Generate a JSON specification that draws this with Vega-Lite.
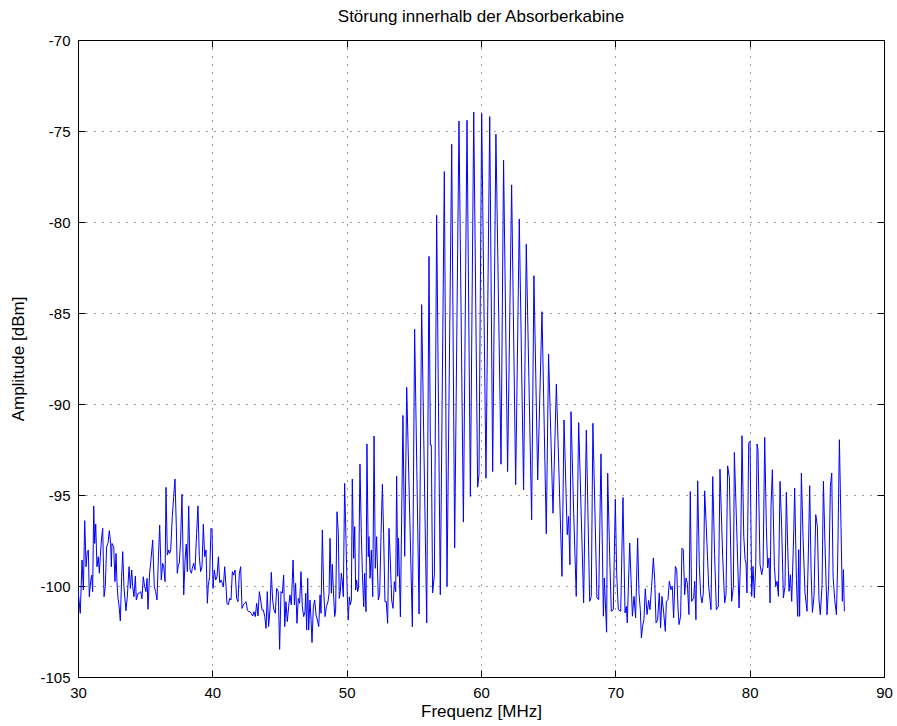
{
  "$schema": "https://vega.github.io/schema/vega-lite/v6.json",
  "width": 806,
  "height": 637,
  "autosize": "none",
  "padding": {"left": 78, "top": 40, "right": 13, "bottom": 49},
  "background": "white",
  "title": {
    "text": "Störung innerhalb der Absorberkabine",
    "anchor": "middle",
    "fontSize": 17,
    "fontWeight": "normal",
    "font": "Liberation Sans",
    "color": "black",
    "offset": 7
  },
  "config": {
    "font": "Liberation Sans",
    "view": {"stroke": "black", "strokeWidth": 1},
    "axis": {
      "domain": false,
      "tickColor": "black",
      "tickSize": -7,
      "tickWidth": 1,
      "labelColor": "black",
      "labelFontSize": 15,
      "labelFont": "Liberation Sans",
      "labelFlush": false,
      "labelExpr": "'' + datum.value",
      "titleFont": "Liberation Sans",
      "titleFontSize": 17,
      "titleFontWeight": "normal",
      "titleColor": "black",
      "gridColor": "black",
      "gridOpacity": 0.75,
      "gridDash": [1, 7],
      "gridWidth": 1
    }
  },
  "datasets": {
    "spectrum": [
      {"f": 30.00, "a": -100.22}, {"f": 30.17, "a": -101.50}, {"f": 30.30, "a": -98.57}, {"f": 30.40, "a": -100.22},
      {"f": 30.50, "a": -96.41}, {"f": 30.60, "a": -98.94}, {"f": 30.69, "a": -98.11}, {"f": 30.77, "a": -98.02},
      {"f": 30.84, "a": -100.59}, {"f": 30.94, "a": -99.76}, {"f": 31.02, "a": -99.40}, {"f": 31.09, "a": -100.31},
      {"f": 31.17, "a": -95.60}, {"f": 31.24, "a": -97.66}, {"f": 31.32, "a": -96.59}, {"f": 31.41, "a": -98.94},
      {"f": 31.51, "a": -98.39}, {"f": 31.59, "a": -99.30}, {"f": 31.66, "a": -98.39}, {"f": 31.74, "a": -97.47},
      {"f": 31.84, "a": -96.83}, {"f": 31.94, "a": -100.59}, {"f": 32.03, "a": -100.04}, {"f": 32.13, "a": -97.84},
      {"f": 32.23, "a": -97.66}, {"f": 32.33, "a": -96.96}, {"f": 32.43, "a": -97.66}, {"f": 32.48, "a": -98.94},
      {"f": 32.53, "a": -97.66}, {"f": 32.66, "a": -97.84}, {"f": 32.75, "a": -99.76}, {"f": 32.83, "a": -98.21},
      {"f": 32.90, "a": -99.76}, {"f": 32.98, "a": -100.68}, {"f": 33.05, "a": -101.04}, {"f": 33.15, "a": -101.92},
      {"f": 33.25, "a": -99.49}, {"f": 33.33, "a": -98.11}, {"f": 33.42, "a": -100.04}, {"f": 33.50, "a": -100.77},
      {"f": 33.57, "a": -101.36}, {"f": 33.67, "a": -100.59}, {"f": 33.80, "a": -98.94}, {"f": 33.90, "a": -100.13},
      {"f": 34.00, "a": -99.12}, {"f": 34.07, "a": -100.04}, {"f": 34.17, "a": -100.59}, {"f": 34.27, "a": -99.45},
      {"f": 34.34, "a": -100.77}, {"f": 34.47, "a": -100.40}, {"f": 34.57, "a": -100.40}, {"f": 34.67, "a": -100.31},
      {"f": 34.76, "a": -100.70}, {"f": 34.86, "a": -99.49}, {"f": 34.96, "a": -100.04}, {"f": 35.06, "a": -100.31},
      {"f": 35.14, "a": -99.58}, {"f": 35.21, "a": -101.28}, {"f": 35.33, "a": -99.30}, {"f": 35.43, "a": -98.57},
      {"f": 35.56, "a": -97.47}, {"f": 35.68, "a": -100.04}, {"f": 35.78, "a": -100.31}, {"f": 35.88, "a": -100.77},
      {"f": 35.98, "a": -98.57}, {"f": 36.08, "a": -96.65}, {"f": 36.20, "a": -99.67}, {"f": 36.30, "a": -98.75},
      {"f": 36.38, "a": -98.94}, {"f": 36.48, "a": -99.76}, {"f": 36.55, "a": -94.58}, {"f": 36.65, "a": -98.30},
      {"f": 36.75, "a": -98.02}, {"f": 36.82, "a": -98.21}, {"f": 36.90, "a": -98.02}, {"f": 37.02, "a": -96.19},
      {"f": 37.12, "a": -95.09}, {"f": 37.22, "a": -94.12}, {"f": 37.32, "a": -96.74}, {"f": 37.39, "a": -99.30},
      {"f": 37.47, "a": -98.85}, {"f": 37.54, "a": -98.75}, {"f": 37.64, "a": -97.47}, {"f": 37.74, "a": -94.96},
      {"f": 37.87, "a": -100.49}, {"f": 37.97, "a": -98.57}, {"f": 38.06, "a": -97.69}, {"f": 38.14, "a": -99.21},
      {"f": 38.24, "a": -95.60}, {"f": 38.34, "a": -99.12}, {"f": 38.44, "a": -99.30}, {"f": 38.51, "a": -99.03},
      {"f": 38.61, "a": -98.75}, {"f": 38.71, "a": -99.12}, {"f": 38.83, "a": -97.11}, {"f": 38.93, "a": -95.60},
      {"f": 39.03, "a": -98.39}, {"f": 39.13, "a": -99.21}, {"f": 39.23, "a": -98.94}, {"f": 39.33, "a": -96.61},
      {"f": 39.43, "a": -98.39}, {"f": 39.53, "a": -98.02}, {"f": 39.63, "a": -100.95}, {"f": 39.70, "a": -99.95},
      {"f": 39.80, "a": -99.49}, {"f": 39.90, "a": -96.83}, {"f": 39.98, "a": -96.92}, {"f": 40.05, "a": -100.13},
      {"f": 40.15, "a": -99.12}, {"f": 40.25, "a": -99.67}, {"f": 40.35, "a": -99.49}, {"f": 40.45, "a": -98.39},
      {"f": 40.55, "a": -99.82}, {"f": 40.65, "a": -99.67}, {"f": 40.74, "a": -99.85}, {"f": 40.82, "a": -100.04},
      {"f": 40.92, "a": -98.94}, {"f": 41.02, "a": -100.04}, {"f": 41.09, "a": -100.95}, {"f": 41.19, "a": -101.04},
      {"f": 41.29, "a": -100.68}, {"f": 41.39, "a": -100.77}, {"f": 41.49, "a": -99.21}, {"f": 41.59, "a": -99.40},
      {"f": 41.69, "a": -99.12}, {"f": 41.81, "a": -100.68}, {"f": 41.91, "a": -100.86}, {"f": 42.01, "a": -99.30},
      {"f": 42.11, "a": -98.94}, {"f": 42.21, "a": -101.23}, {"f": 42.31, "a": -101.04}, {"f": 42.41, "a": -100.95},
      {"f": 42.51, "a": -100.86}, {"f": 42.61, "a": -101.32}, {"f": 42.70, "a": -101.41}, {"f": 42.80, "a": -101.41},
      {"f": 42.90, "a": -101.50}, {"f": 43.00, "a": -101.65}, {"f": 43.10, "a": -101.41}, {"f": 43.20, "a": -101.68},
      {"f": 43.30, "a": -100.95}, {"f": 43.40, "a": -101.65}, {"f": 43.50, "a": -100.31}, {"f": 43.60, "a": -100.77},
      {"f": 43.70, "a": -101.32}, {"f": 43.80, "a": -101.32}, {"f": 43.90, "a": -101.68}, {"f": 44.00, "a": -102.33},
      {"f": 44.09, "a": -100.31}, {"f": 44.19, "a": -102.23}, {"f": 44.29, "a": -101.32}, {"f": 44.39, "a": -99.25},
      {"f": 44.49, "a": -100.77}, {"f": 44.59, "a": -101.32}, {"f": 44.69, "a": -101.50}, {"f": 44.79, "a": -100.13},
      {"f": 44.91, "a": -100.31}, {"f": 45.01, "a": -103.48}, {"f": 45.11, "a": -100.31}, {"f": 45.21, "a": -100.40},
      {"f": 45.31, "a": -99.40}, {"f": 45.39, "a": -102.23}, {"f": 45.48, "a": -100.86}, {"f": 45.58, "a": -101.96},
      {"f": 45.68, "a": -101.14}, {"f": 45.78, "a": -100.49}, {"f": 45.88, "a": -101.04}, {"f": 46.01, "a": -98.57},
      {"f": 46.11, "a": -101.04}, {"f": 46.20, "a": -99.85}, {"f": 46.30, "a": -102.05}, {"f": 46.40, "a": -100.68},
      {"f": 46.50, "a": -100.95}, {"f": 46.60, "a": -99.21}, {"f": 46.70, "a": -101.14}, {"f": 46.80, "a": -101.68},
      {"f": 46.90, "a": -101.41}, {"f": 46.95, "a": -100.40}, {"f": 47.02, "a": -102.42}, {"f": 47.10, "a": -99.58},
      {"f": 47.17, "a": -102.42}, {"f": 47.27, "a": -100.77}, {"f": 47.35, "a": -101.87}, {"f": 47.42, "a": -103.11},
      {"f": 47.52, "a": -101.14}, {"f": 47.62, "a": -100.77}, {"f": 47.72, "a": -101.59}, {"f": 47.82, "a": -101.87},
      {"f": 47.92, "a": -102.23}, {"f": 48.02, "a": -100.49}, {"f": 48.09, "a": -101.50}, {"f": 48.19, "a": -96.92},
      {"f": 48.29, "a": -100.22}, {"f": 48.39, "a": -101.68}, {"f": 48.49, "a": -101.14}, {"f": 48.61, "a": -100.86},
      {"f": 48.69, "a": -100.40}, {"f": 48.76, "a": -97.38}, {"f": 48.86, "a": -100.40}, {"f": 48.93, "a": -98.81},
      {"f": 49.01, "a": -100.22}, {"f": 49.11, "a": -101.68}, {"f": 49.18, "a": -101.32}, {"f": 49.28, "a": -95.92},
      {"f": 49.38, "a": -97.11}, {"f": 49.45, "a": -100.68}, {"f": 49.53, "a": -100.31}, {"f": 49.60, "a": -99.30},
      {"f": 49.68, "a": -99.76}, {"f": 49.75, "a": -100.59}, {"f": 49.85, "a": -94.36}, {"f": 49.95, "a": -97.47},
      {"f": 50.05, "a": -100.59}, {"f": 50.12, "a": -101.87}, {"f": 50.20, "a": -100.59}, {"f": 50.27, "a": -101.04},
      {"f": 50.35, "a": -100.77}, {"f": 50.42, "a": -94.12}, {"f": 50.52, "a": -98.48}, {"f": 50.60, "a": -96.74},
      {"f": 50.67, "a": -100.22}, {"f": 50.74, "a": -99.67}, {"f": 50.82, "a": -100.31}, {"f": 50.89, "a": -100.04},
      {"f": 50.99, "a": -93.30}, {"f": 51.09, "a": -97.11}, {"f": 51.17, "a": -99.30}, {"f": 51.27, "a": -101.14},
      {"f": 51.34, "a": -99.30}, {"f": 51.44, "a": -101.41}, {"f": 51.51, "a": -92.20}, {"f": 51.61, "a": -98.39},
      {"f": 51.66, "a": -97.29}, {"f": 51.74, "a": -99.58}, {"f": 51.84, "a": -98.02}, {"f": 51.94, "a": -100.59},
      {"f": 52.04, "a": -91.76}, {"f": 52.13, "a": -99.03}, {"f": 52.23, "a": -97.29}, {"f": 52.36, "a": -100.77},
      {"f": 52.46, "a": -100.40}, {"f": 52.56, "a": -97.11}, {"f": 52.66, "a": -94.41}, {"f": 52.75, "a": -97.11},
      {"f": 52.85, "a": -100.86}, {"f": 52.95, "a": -100.86}, {"f": 53.05, "a": -102.05}, {"f": 53.15, "a": -96.83},
      {"f": 53.25, "a": -98.57}, {"f": 53.35, "a": -100.77}, {"f": 53.45, "a": -101.23}, {"f": 53.55, "a": -99.76},
      {"f": 53.65, "a": -100.31}, {"f": 53.72, "a": -93.96}, {"f": 53.80, "a": -99.47}, {"f": 53.86, "a": -97.37},
      {"f": 54.00, "a": -101.70}, {"f": 54.19, "a": -90.63}, {"f": 54.32, "a": -98.37}, {"f": 54.47, "a": -89.08},
      {"f": 54.89, "a": -102.25}, {"f": 55.06, "a": -85.88}, {"f": 55.39, "a": -101.54}, {"f": 55.58, "a": -84.54},
      {"f": 55.96, "a": -102.03}, {"f": 56.13, "a": -81.89}, {"f": 56.23, "a": -92.25}, {"f": 56.30, "a": -92.25},
      {"f": 56.40, "a": -100.38}, {"f": 56.53, "a": -99.38}, {"f": 56.70, "a": -79.63}, {"f": 56.97, "a": -100.48},
      {"f": 57.27, "a": -77.23}, {"f": 57.47, "a": -100.02}, {"f": 57.82, "a": -75.73}, {"f": 58.04, "a": -97.91},
      {"f": 58.36, "a": -74.45}, {"f": 58.69, "a": -96.49}, {"f": 58.96, "a": -74.41}, {"f": 59.21, "a": -95.08},
      {"f": 59.46, "a": -73.96}, {"f": 59.75, "a": -94.57}, {"f": 59.85, "a": -93.89}, {"f": 60.05, "a": -74.03},
      {"f": 60.37, "a": -94.08}, {"f": 60.65, "a": -74.21}, {"f": 60.87, "a": -93.71}, {"f": 61.11, "a": -75.18},
      {"f": 61.49, "a": -93.31}, {"f": 61.68, "a": -76.61}, {"f": 61.98, "a": -93.71}, {"f": 62.28, "a": -77.96},
      {"f": 62.58, "a": -94.44}, {"f": 62.85, "a": -79.83}, {"f": 63.17, "a": -94.72}, {"f": 63.37, "a": -81.22},
      {"f": 63.77, "a": -96.36}, {"f": 63.94, "a": -82.95}, {"f": 64.22, "a": -94.17}, {"f": 64.54, "a": -84.93},
      {"f": 64.86, "a": -97.13}, {"f": 65.03, "a": -87.25}, {"f": 65.36, "a": -96.00}, {"f": 65.61, "a": -88.90},
      {"f": 66.03, "a": -99.47}, {"f": 66.18, "a": -90.88}, {"f": 66.42, "a": -97.18}, {"f": 66.52, "a": -96.18},
      {"f": 66.62, "a": -98.83}, {"f": 66.70, "a": -90.42}, {"f": 66.90, "a": -96.00}, {"f": 67.09, "a": -100.57},
      {"f": 67.27, "a": -91.02}, {"f": 67.39, "a": -94.17}, {"f": 67.64, "a": -100.93}, {"f": 67.84, "a": -91.43},
      {"f": 68.09, "a": -100.84}, {"f": 68.21, "a": -100.57}, {"f": 68.33, "a": -91.06}, {"f": 68.63, "a": -100.66},
      {"f": 68.76, "a": -100.75}, {"f": 68.93, "a": -92.74}, {"f": 69.11, "a": -101.66}, {"f": 69.18, "a": -99.56},
      {"f": 69.35, "a": -102.54}, {"f": 69.43, "a": -93.80}, {"f": 69.58, "a": -98.37}, {"f": 69.70, "a": -101.39},
      {"f": 69.85, "a": -101.30}, {"f": 70.00, "a": -95.23}, {"f": 70.10, "a": -99.29}, {"f": 70.22, "a": -101.30},
      {"f": 70.40, "a": -101.39}, {"f": 70.57, "a": -95.14}, {"f": 70.72, "a": -101.48}, {"f": 70.82, "a": -101.12},
      {"f": 70.89, "a": -102.03}, {"f": 71.07, "a": -97.64}, {"f": 71.17, "a": -99.65}, {"f": 71.27, "a": -101.66},
      {"f": 71.39, "a": -100.57}, {"f": 71.51, "a": -101.75}, {"f": 71.66, "a": -97.37}, {"f": 71.76, "a": -100.38},
      {"f": 71.86, "a": -101.30}, {"f": 71.94, "a": -102.85}, {"f": 72.03, "a": -102.21}, {"f": 72.13, "a": -101.85},
      {"f": 72.23, "a": -100.15}, {"f": 72.36, "a": -101.57}, {"f": 72.48, "a": -100.79}, {"f": 72.58, "a": -101.30},
      {"f": 72.70, "a": -100.02}, {"f": 72.83, "a": -98.46}, {"f": 72.93, "a": -99.65}, {"f": 73.03, "a": -102.03},
      {"f": 73.15, "a": -101.85}, {"f": 73.27, "a": -100.38}, {"f": 73.37, "a": -102.30}, {"f": 73.47, "a": -100.57},
      {"f": 73.60, "a": -101.48}, {"f": 73.72, "a": -102.49}, {"f": 73.80, "a": -100.84}, {"f": 73.92, "a": -100.75},
      {"f": 74.02, "a": -99.74}, {"f": 74.14, "a": -100.20}, {"f": 74.24, "a": -100.02}, {"f": 74.34, "a": -101.75},
      {"f": 74.47, "a": -98.92}, {"f": 74.57, "a": -99.10}, {"f": 74.66, "a": -101.12}, {"f": 74.74, "a": -102.12},
      {"f": 74.86, "a": -101.66}, {"f": 74.96, "a": -97.92}, {"f": 75.06, "a": -98.01}, {"f": 75.16, "a": -100.48},
      {"f": 75.26, "a": -99.56}, {"f": 75.36, "a": -99.84}, {"f": 75.48, "a": -101.57}, {"f": 75.58, "a": -94.81},
      {"f": 75.68, "a": -100.84}, {"f": 75.83, "a": -100.66}, {"f": 75.91, "a": -99.74}, {"f": 76.00, "a": -101.85},
      {"f": 76.13, "a": -94.22}, {"f": 76.25, "a": -98.83}, {"f": 76.35, "a": -100.48}, {"f": 76.45, "a": -100.93},
      {"f": 76.55, "a": -100.38}, {"f": 76.65, "a": -94.77}, {"f": 76.77, "a": -96.73}, {"f": 76.95, "a": -100.02},
      {"f": 77.12, "a": -101.30}, {"f": 77.25, "a": -93.99}, {"f": 77.39, "a": -98.28}, {"f": 77.52, "a": -101.30},
      {"f": 77.67, "a": -101.12}, {"f": 77.79, "a": -93.58}, {"f": 77.99, "a": -98.37}, {"f": 78.14, "a": -100.93},
      {"f": 78.24, "a": -100.48}, {"f": 78.36, "a": -93.40}, {"f": 78.49, "a": -94.07}, {"f": 78.66, "a": -100.84},
      {"f": 78.79, "a": -100.02}, {"f": 78.86, "a": -92.66}, {"f": 79.03, "a": -96.72}, {"f": 79.21, "a": -101.21},
      {"f": 79.33, "a": -98.19}, {"f": 79.43, "a": -91.74}, {"f": 79.56, "a": -97.27}, {"f": 79.66, "a": -98.55},
      {"f": 79.73, "a": -98.74}, {"f": 79.80, "a": -100.38}, {"f": 79.93, "a": -92.14}, {"f": 80.03, "a": -92.05},
      {"f": 80.15, "a": -100.57}, {"f": 80.25, "a": -98.92}, {"f": 80.35, "a": -100.66}, {"f": 80.45, "a": -98.92},
      {"f": 80.55, "a": -92.20}, {"f": 80.62, "a": -92.51}, {"f": 80.77, "a": -98.83}, {"f": 80.90, "a": -99.38},
      {"f": 81.00, "a": -98.92}, {"f": 81.12, "a": -91.83}, {"f": 81.24, "a": -96.72}, {"f": 81.34, "a": -99.01},
      {"f": 81.44, "a": -98.46}, {"f": 81.52, "a": -100.93}, {"f": 81.59, "a": -95.62}, {"f": 81.69, "a": -93.61},
      {"f": 81.84, "a": -98.92}, {"f": 81.94, "a": -100.02}, {"f": 82.04, "a": -99.74}, {"f": 82.14, "a": -100.57},
      {"f": 82.26, "a": -94.25}, {"f": 82.38, "a": -96.72}, {"f": 82.51, "a": -100.66}, {"f": 82.63, "a": -100.02},
      {"f": 82.73, "a": -94.85}, {"f": 82.83, "a": -97.82}, {"f": 82.93, "a": -100.29}, {"f": 83.03, "a": -99.38},
      {"f": 83.13, "a": -100.84}, {"f": 83.28, "a": -97.09}, {"f": 83.35, "a": -94.62}, {"f": 83.48, "a": -99.65},
      {"f": 83.58, "a": -101.67}, {"f": 83.65, "a": -98.00}, {"f": 83.72, "a": -101.67}, {"f": 83.85, "a": -93.79},
      {"f": 83.97, "a": -97.27}, {"f": 84.12, "a": -100.38}, {"f": 84.27, "a": -101.39}, {"f": 84.37, "a": -98.19},
      {"f": 84.47, "a": -94.49}, {"f": 84.57, "a": -99.10}, {"f": 84.67, "a": -101.45}, {"f": 84.79, "a": -100.57},
      {"f": 84.92, "a": -96.08}, {"f": 85.04, "a": -96.72}, {"f": 85.16, "a": -100.75}, {"f": 85.26, "a": -101.58},
      {"f": 85.39, "a": -99.93}, {"f": 85.49, "a": -94.25}, {"f": 85.61, "a": -97.82}, {"f": 85.76, "a": -101.58},
      {"f": 85.88, "a": -99.93}, {"f": 86.01, "a": -94.52}, {"f": 86.11, "a": -93.79}, {"f": 86.21, "a": -99.47},
      {"f": 86.33, "a": -100.75}, {"f": 86.46, "a": -101.58}, {"f": 86.55, "a": -98.74}, {"f": 86.68, "a": -91.96},
      {"f": 86.80, "a": -96.72}, {"f": 86.90, "a": -100.84}, {"f": 86.98, "a": -99.10}, {"f": 87.05, "a": -101.39}
    ]
  },
  "data": {"name": "spectrum"},
  "layer": [
    {
      "mark": {"type": "line", "color": "#0000ff", "strokeWidth": 1, "clip": true},
      "encoding": {
        "x": {
          "field": "f", "type": "quantitative",
          "scale": {"domain": [30, 90], "nice": false, "zero": false},
          "axis": {"orient": "bottom", "values": [30, 40, 50, 60, 70, 80, 90], "title": "Frequenz [MHz]", "labelPadding": 15, "titlePadding": 3, "grid": true}
        },
        "y": {
          "field": "a", "type": "quantitative",
          "scale": {"domain": [-105, -70], "nice": false, "zero": false},
          "axis": {"orient": "left", "values": [-105, -100, -95, -90, -85, -80, -75, -70], "title": "Amplitude [dBm]", "labelPadding": 15, "titlePadding": 12, "grid": true}
        },
        "order": {"field": "f", "type": "quantitative"}
      }
    },
    {
      "mark": {"type": "line", "strokeOpacity": 0},
      "encoding": {
        "x": {
          "field": "f", "type": "quantitative",
          "axis": {"orient": "top", "values": [30, 40, 50, 60, 70, 80, 90], "labels": false, "title": null, "grid": false}
        },
        "y": {
          "field": "a", "type": "quantitative",
          "axis": {"orient": "right", "values": [-105, -100, -95, -90, -85, -80, -75, -70], "labels": false, "title": null, "grid": false}
        }
      }
    }
  ],
  "resolve": {"axis": {"x": "independent", "y": "independent"}}
}
